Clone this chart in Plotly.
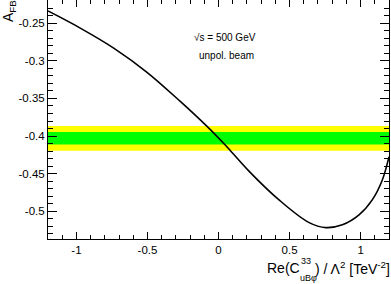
import plotly.graph_objects as go

# Curve: A_FB vs Re(C33_uBphi)/Lambda^2
x_vals = [-1.2, -0.97, -0.735, -0.501, -0.267, -0.079, 0.014, 0.075, 0.216, 0.426,
          0.638, 0.755, 0.872, 0.989, 1.082, 1.153, 1.2]
afb_vals = [-0.2336, -0.2567, -0.2833, -0.3155, -0.3543, -0.3875, -0.4052, -0.4175, -0.447, -0.485,
            -0.5152, -0.5218, -0.5182, -0.505, -0.485, -0.4584, -0.4274]

# SM band
band_center = -0.403
band_2sigma = 0.0165
band_1sigma = 0.0084

x_tickvals = [-1, -0.5, 0, 0.5, 1]
x_ticktext = ["-1", "-0.5", "0", "0.5", "1"]
y_tickvals = [-0.5, -0.45, -0.4, -0.35, -0.3, -0.25]
y_ticktext = ["-0.5", "-0.45", "-0.4", "-0.35", "-0.3", "-0.25"]

FONT = "Liberation Sans, Arial, sans-serif"

W, H = 391, 284
ML, MR, MT, MB = 48, 2, 0, 45
PW, PH = W - ML - MR, H - MT - MB


def px(xp):
    return (xp - ML) / PW


def py(yp):
    return (H - MB - yp) / PH


fig = go.Figure()
fig.add_trace(go.Scatter(x=x_vals, y=afb_vals, mode="lines",
                         line=dict(color="black", width=1.6, shape="spline", smoothing=1.0),
                         showlegend=False, hoverinfo="skip", cliponaxis=True))

fig.add_shape(type="rect", xref="paper", x0=0, x1=1, yref="y",
              y0=band_center - band_2sigma, y1=band_center + band_2sigma,
              fillcolor="#ffff00", line=dict(width=0), layer="below")
fig.add_shape(type="rect", xref="paper", x0=0, x1=1, yref="y",
              y0=band_center - band_1sigma, y1=band_center + band_1sigma,
              fillcolor="#00ff00", line=dict(width=0), layer="below")

axis_common = dict(showgrid=False, zeroline=False, showline=True, linecolor="black",
                   linewidth=1, mirror="ticks", ticks="inside", tickcolor="black",
                   tickwidth=1, tickfont=dict(family=FONT, size=11.5, color="black"))

fig.update_xaxes(range=[-1.2, 1.2], tickvals=x_tickvals, ticktext=x_ticktext, ticklen=7,
                 minor=dict(ticks="inside", dtick=0.1, ticklen=4, tickcolor="black", showgrid=False),
                 **axis_common)
fig.update_yaxes(range=[-0.537, -0.219], tickvals=y_tickvals, ticktext=y_ticktext, ticklen=9,
                 minor=dict(ticks="inside", dtick=0.01, ticklen=5, tickcolor="black", showgrid=False),
                 **axis_common)


def ann(text, x, y, size, xanchor="left", yanchor="middle", angle=0):
    return dict(text=text, xref="paper", yref="paper", x=x, y=y, xanchor=xanchor,
                yanchor=yanchor, textangle=angle, showarrow=False, borderpad=0,
                borderwidth=0, font=dict(family=FONT, size=size, color="black"))


annotations = [
    ann("A<sub>FB</sub>", px(9), 1.0, 14, xanchor="center", yanchor="top", angle=-90),
    # x-axis title with stacked super/subscript
    ann("Re(C", px(300), py(268), 14, xanchor="right"),
    ann("33", px(300.5), py(261), 9),
    ann("uBφ", px(300), py(278), 9),
    ann(") / Λ<sup>2</sup> [TeV<sup>-2</sup>]", px(315), py(268), 14),
    ann("√s = 500 GeV", px(225), py(38), 10, xanchor="center"),
    ann("unpol. beam", px(226), py(56), 10, xanchor="center"),
]

fig.update_layout(width=W, height=H, margin=dict(l=ML, r=MR, t=MT, b=MB),
                  paper_bgcolor="white", plot_bgcolor="white", annotations=annotations,
                  hovermode=False)

fig.write_html("out.html", config={"displayModeBar": False, "staticPlot": True})

# remove the browser's default page margin so the figure sits at the window origin
with open("out.html", "r", encoding="utf-8") as f:
    html = f.read()
html = html.replace("<head>", "<head><style>html,body{margin:0;padding:0;overflow:hidden;}</style>", 1)
with open("out.html", "w", encoding="utf-8") as f:
    f.write(html)
